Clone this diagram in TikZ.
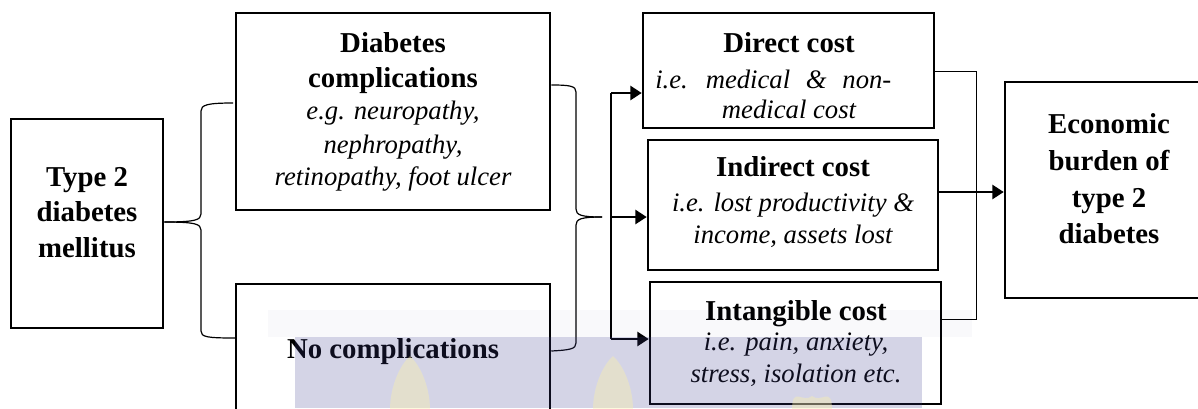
\documentclass[tikz,border=0pt]{standalone}
\usepackage{fontspec}
\setmainfont{Liberation Serif}
\usetikzlibrary{arrows.meta,fit}
\definecolor{wmblue}{RGB}{60,60,140}
\definecolor{wmyellow}{RGB}{250,240,170}
\begin{document}
\begin{tikzpicture}[x=0.75pt,y=-0.75pt,
  box/.style={draw,line width=1.9pt,inner sep=0pt},
  bl/.style={anchor=base,inner sep=0pt,font=\fontsize{21.6}{26}\selectfont\bfseries},
  il/.style={anchor=base,inner sep=0pt,font=\fontsize{20}{24}\selectfont\itshape},
  bracepath/.style={line width=0.9pt},
  thinline/.style={line width=0.75pt},
  trunk/.style={line width=1.3pt},
  arr/.style={line width=1.8pt,-{Triangle[length=8.5pt,width=10.5pt]}}]
\useasboundingbox (0,0) rectangle (1198,408);
\clip (0,0) rectangle (1198,408);

% boxes
\node[box,fit={(11,119) (163,328)}] (t2) {};
\node[box,fit={(236,13) (550,210)}] (dc) {};
\node[box,fit={(236,284) (550,440)}] (nc) {};
\node[box,fit={(643,13) (934,128)}] (direct) {};
\node[box,fit={(648,140) (938,270)}] (indirect) {};
\node[box,fit={(650,282) (941,404)}] (intang) {};
\node[box,fit={(1005,82) (1215,298)}] (econ) {};

% texts: Type 2 diabetes mellitus
\node[bl] (t2a) at (87,186) {Type 2};
\node[bl] (t2b) at (87,221) {diabetes};
\node[bl] (t2c) at (87,257.5) {mellitus};
% Diabetes complications
\node[bl] (dca) at (393,52) {Diabetes};
\node[bl] (dcb) at (393,87) {complications};
\node[il] (dcc) at (393,119) {e.g. neuropathy,};
\node[il] (dcd) at (393,153) {nephropathy,};
\node[il] (dce) at (393,185) {retinopathy, foot ulcer};
% No complications
\node[bl] (nca) at (393,358) {No complications};
% Direct cost
\node[bl] (dia) at (789,52) {Direct cost};
\node[il,anchor=base west] (dib) at (655,88) {i.e. \hspace{6.8pt}medical \hspace{6.8pt}\& \hspace{6.8pt}non-};
\node[il] (dic) at (789,118) {medical cost};
% Indirect cost
\node[bl] (ina) at (793,176.5) {Indirect cost};
\node[il] (inb) at (793,211.5) {i.e. lost productivity \&};
\node[il] (inc) at (793,243) {income, assets lost};
% Intangible cost
\node[bl] (ita) at (796,320.5) {Intangible cost};
\node[il] (itb) at (796,350.5) {i.e. pain, anxiety,};
\node[il] (itc) at (796,382) {stress, isolation etc.};
% Economic burden
\node[bl] (eca) at (1109,133) {Economic};
\node[bl] (ecb) at (1109,170) {burden of};
\node[bl] (ecc) at (1109,207) {type 2};
\node[bl] (ecd) at (1109,243) {diabetes};

% left brace
\coordinate (lbtop) at (233,103);
\coordinate (lbbot) at (235,338);
\draw[bracepath] (t2.east |- 0,222) .. controls (195,222) and (201,220) .. (201,214)
  -- (201,111) .. controls (201,105) and (207,103) .. (lbtop);
\draw[bracepath] (t2.east |- 0,222) .. controls (195,222) and (201,224) .. (201,230)
  -- (201,331) .. controls (201,337) and (207,338) .. (lbbot);

% right brace
\coordinate (rbtip) at (602,217);
\draw[bracepath] (dc.east |- 0,85) .. controls (570,85) and (576,86) .. (576,92)
  -- (576,209) .. controls (576,215) and (581,217) .. (rbtip);
\draw[bracepath] (rbtip) .. controls (581,217) and (576,219) .. (576,225)
  -- (576,343) .. controls (576,349) and (570,350) .. (nc.east |- 0,351);

% trunk and arrows to costs
\coordinate (jtop) at (611,93);
\coordinate (jmid) at (611,217);
\coordinate (jbot) at (611,339);
\draw[trunk] (jtop) -- (jbot);
\draw[arr] (jtop) -- (jtop -| direct.west);
\draw[arr] (jmid) -- (jmid -| indirect.west);
\draw[arr] (jbot) -- (jbot -| intang.west);

% bracket on the right of the cost boxes
\coordinate (bk1) at (976,71);
\coordinate (bk2) at (976,319);
\draw[thinline] (direct.east |- bk1) -- (bk1) -- (bk2) -- (intang.east |- bk2);

% arrow to economic burden
\draw[arr] (indirect.east |- 0,192) -- (econ.west |- 0,192);

% faint watermark band
\fill[wmblue,opacity=0.03] (268,310) rectangle (972,337);
\fill[wmblue,opacity=0.22] (295,337) rectangle (922,408);
\foreach \fx/\fy in {410/356, 613/356, 812/396}{
  \fill[wmyellow,opacity=0.4] (\fx-20,410) .. controls (\fx-20,385) and (\fx-9,\fy+8) .. (\fx,\fy)
     .. controls (\fx+9,\fy+8) and (\fx+20,385) .. (\fx+20,410) -- cycle;
}
\end{tikzpicture}
\end{document}
